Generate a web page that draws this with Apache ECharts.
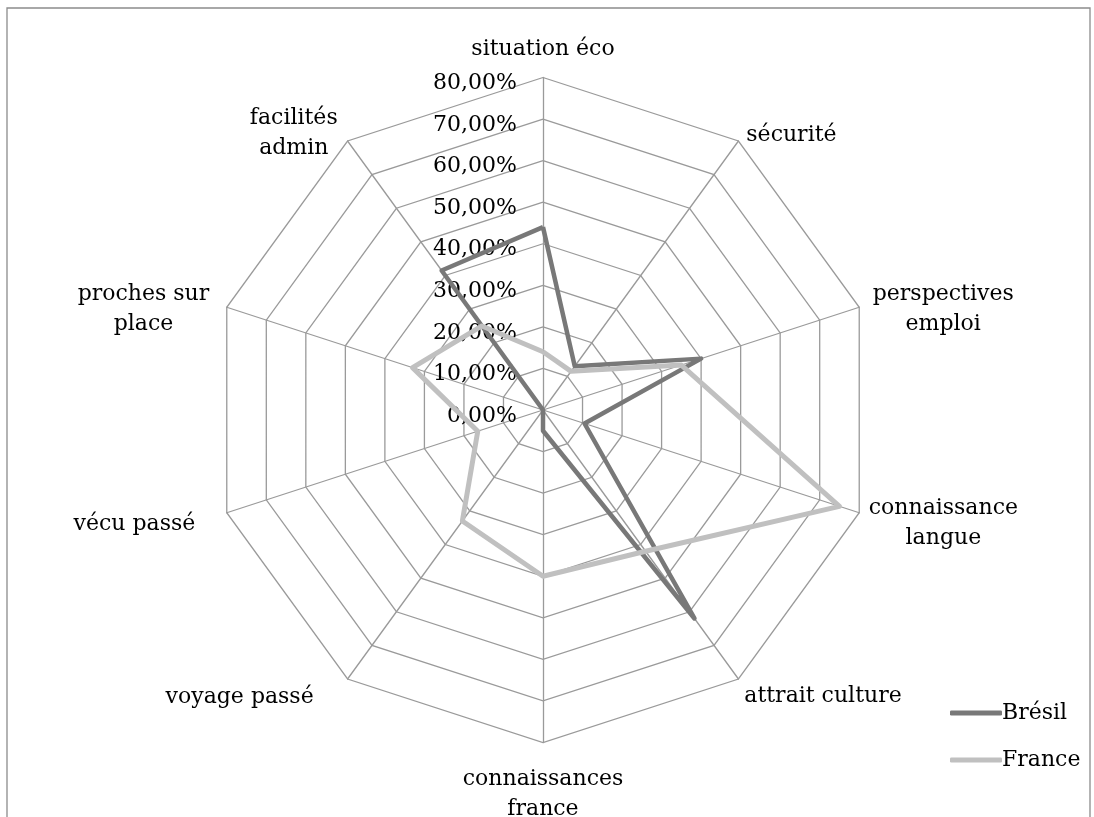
<!DOCTYPE html>
<html>
<head>
<meta charset="utf-8">
<script src="https://cdn.jsdelivr.net/npm/echarts@6/dist/echarts.min.js"></script>
<style>
  html, body { margin: 0; padding: 0; background: #fff; }
  #main { width: 1094px; height: 817px; }
</style>
</head>
<body>
<div id="main"></div>
<script>
// axes in clockwise order, starting at the top
var categories = ['situation éco', 'sécurité', 'perspectives\nemploi', 'connaissance\nlangue',
  'attrait culture', 'connaissances\nfrance', 'voyage passé', 'vécu passé',
  'proches sur\nplace', 'facilités\nadmin'];
var bresil = [44, 13, 40, 10.5, 62, 5, 0, 0, 0, 41.5];
var france = [14, 11.5, 35, 75, 42, 40, 33, 16.5, 33, 25];
var axisMax = 80;

// small nudges of the axis names (px, same order as categories), to sit like excel does
var nameNudge = [[0, 5], [2, 2], [4, 5], [0, 7], [0, 9], [0, 12], [-28, 10], [-22, 8], [-8, 5], [-4, 0]];

var font = 'DejaVu Serif';

// echarts radar goes counter-clockwise, so keep the first axis and reverse the rest
function ccw(arr) {
  return [arr[0]].concat(arr.slice(1).reverse());
}

var indicators = ccw(categories).map(function (name, i) {
  var ind = { name: name, min: 0, max: axisMax };
  if (i === 0) ind.axisLabel = { show: true };
  return ind;
});

var rich = {};
nameNudge.forEach(function (d, i) {
  rich['n' + i] = {
    align: 'center', fontFamily: font, fontSize: 22, lineHeight: 30, color: '#000',
    padding: [Math.max(0, 2 * d[1]), Math.max(0, -d[0]), Math.max(0, -2 * d[1]), Math.max(0, d[0])]
  };
});

var myChart = echarts.init(document.getElementById('main'));
var option = {
  backgroundColor: '#fff',
  animation: false,
  graphic: [{
    type: 'rect',
    shape: { x: 7, y: 8, width: 1083, height: 830 },
    style: { fill: 'none', stroke: '#8c8c8c', lineWidth: 1.3 },
    silent: true
  }],
  legend: {
    orient: 'vertical',
    left: 945,
    top: 697,
    itemWidth: 52,
    itemHeight: 5,
    itemGap: 25,
    icon: 'roundRect',
    textStyle: { fontFamily: font, fontSize: 22, color: '#000', padding: [0, 0, 0, -5] },
    data: ['Brésil', 'France']
  },
  radar: {
    center: [543, 410],
    radius: 332.5,
    startAngle: 90,
    shape: 'polygon',
    splitNumber: 8,
    indicator: indicators,
    nameGap: 10,
    axisName: {
      color: '#000',
      fontFamily: font,
      fontSize: 22,
      formatter: function (name) {
        var k = 'n' + categories.indexOf(name);
        return name.split('\n').map(function (s) { return '{' + k + '|' + s + '}'; }).join('\n');
      },
      rich: rich
    },
    axisLine: { lineStyle: { color: '#9a9a9a', width: 1.3 } },
    splitLine: { lineStyle: { color: '#9a9a9a', width: 1.3 } },
    splitArea: { show: false },
    axisTick: { show: false },
    axisLabel: {
      show: false,
      margin: 26,
      color: '#000',
      fontFamily: font,
      fontSize: 22,
      formatter: function (v) { return '{v|' + v.toFixed(2).replace('.', ',') + '%}'; },
      rich: {
        v: { fontFamily: font, fontSize: 22, lineHeight: 24, color: '#000', padding: [12, 0, 0, 0] }
      }
    }
  },
  series: [{
    type: 'radar',
    symbol: 'none',
    data: [
      { name: 'Brésil', value: ccw(bresil),
        lineStyle: { color: '#787878', width: 4.5 }, itemStyle: { color: '#787878' } },
      { name: 'France', value: ccw(france),
        lineStyle: { color: '#c0c0c0', width: 5 }, itemStyle: { color: '#c0c0c0' } }
    ]
  }]
};
myChart.setOption(option);
</script>
</body>
</html>
